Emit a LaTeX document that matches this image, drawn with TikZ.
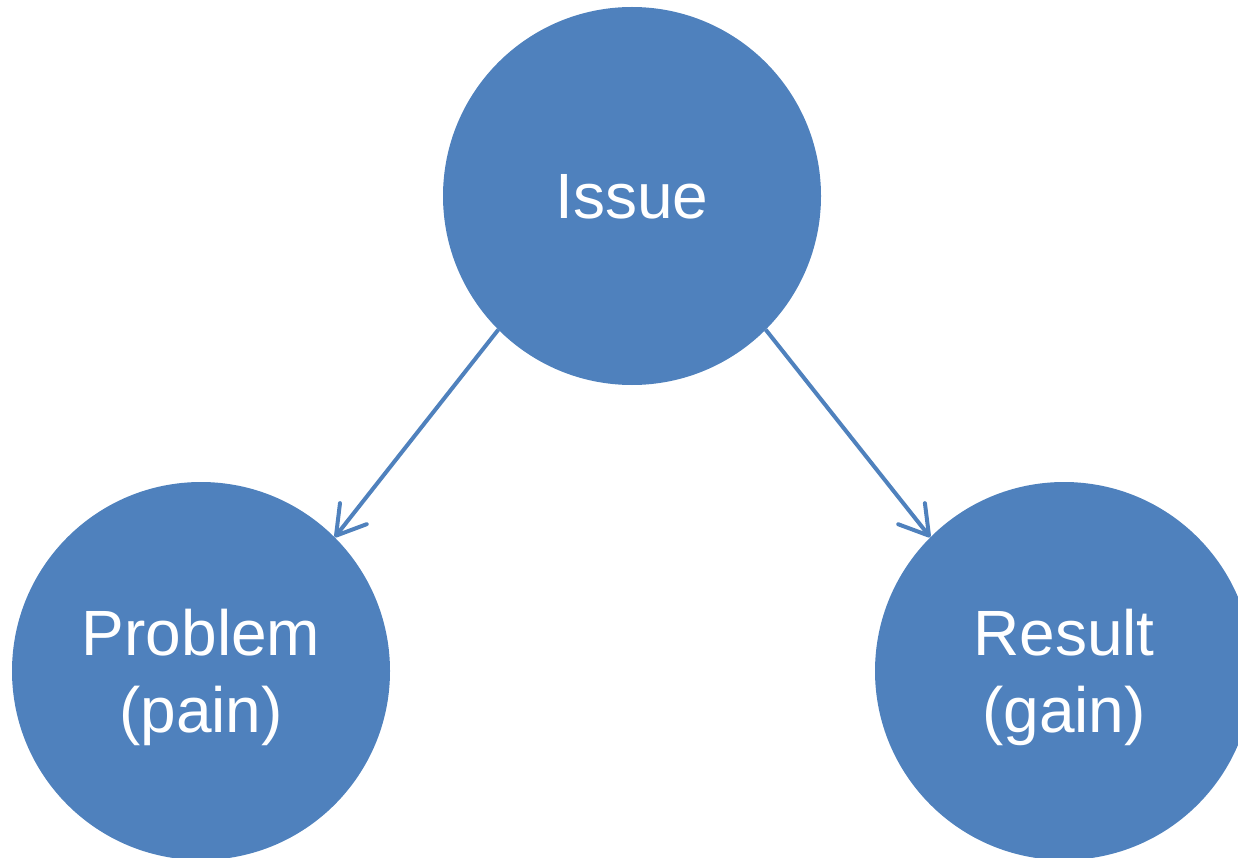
\documentclass[tikz,border=0pt]{standalone}
\usepackage{fontspec}
\setmainfont{Liberation Sans}
\usepackage{xcolor}
\usepackage{tikz}
\usetikzlibrary{arrows.meta}
\definecolor{officeblue}{HTML}{4F81BD}

\begin{document}
\begin{tikzpicture}[x=1pt,y=-1pt,
    bubble/.style={circle, fill=officeblue, text=white, minimum size=378pt, inner sep=0pt,
      align=center, text depth=0pt, font=\fontsize{64}{77}\selectfont},
    link/.style={draw=officeblue, line width=4pt,
      -{Straight Barb[length=28pt,width=34pt,round]}}]
    \useasboundingbox (0,0) rectangle (1238,858);
    \clip (0,0) rectangle (1238,858);
    \node[bubble] (I) at (632,196) {Issue};
    \node[bubble] (P) at (201,671) {Problem\\(pain)};
    \node[bubble] (R) at (1064,671) {Result\\(gain)};
    \path (I.225) edge[link] (P.45);
    \path (I.-45) edge[link] (R.135);
  \end{tikzpicture}
\end{document}
